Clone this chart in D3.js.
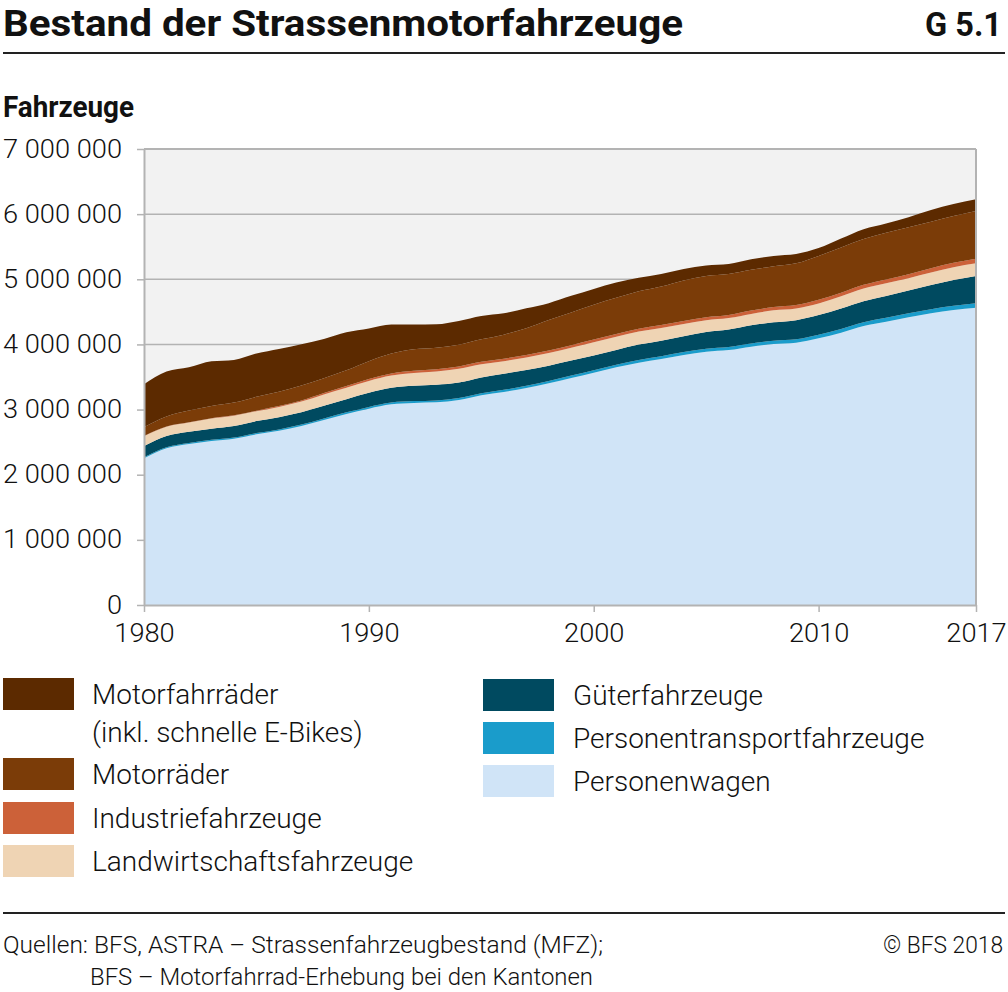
<!DOCTYPE html>
<html><head><meta charset="utf-8">
<script src="https://cdn.jsdelivr.net/npm/d3@7"></script>
<style>
body{margin:0;background:#fff}
svg{display:block}
text{font-family:Roboto,"Noto Sans",sans-serif;fill:#111}
</style>
</head><body>
<svg id="c" width="1008" height="992"></svg>
<script>
// ---- data (millions of vehicles) ----
const years = d3.range(1980, 2018);
const personenwagen = [2.251,2.405,2.471,2.518,2.553,2.620,2.676,2.748,2.840,2.932, 3.014,3.080,3.101,3.111,3.147,3.219,3.270,3.331,3.403,3.485, 3.566,3.648,3.720,3.776,3.838,3.889,3.914,3.966,4.007,4.027, 4.094,4.181,4.283,4.349,4.416,4.477,4.528,4.564];
const personentransport = [0.016,0.016,0.017,0.017,0.018,0.019,0.020,0.021,0.023,0.025, 0.027,0.028,0.029,0.030,0.031,0.032,0.033,0.034,0.035,0.037, 0.039,0.040,0.041,0.042,0.044,0.045,0.046,0.048,0.050,0.051, 0.053,0.055,0.057,0.059,0.061,0.063,0.065,0.067];
const gueter = [0.174,0.173,0.170,0.172,0.177,0.184,0.188,0.190,0.196,0.203, 0.216,0.226,0.235,0.240,0.238,0.243,0.248,0.242,0.235,0.230, 0.225,0.228,0.236,0.240,0.243,0.256,0.268,0.280,0.282,0.295, 0.305,0.316,0.322,0.335,0.350,0.372,0.395,0.419];
const landwirtschaft = [0.150,0.142,0.142,0.155,0.157,0.152,0.157,0.163,0.172,0.174, 0.183,0.188,0.198,0.204,0.210,0.202,0.192,0.193,0.195,0.196, 0.202,0.203,0.201,0.196,0.190,0.181,0.176,0.175,0.185,0.180, 0.178,0.186,0.195,0.195,0.190,0.192,0.198,0.196];
const industrie = [0.003,0.004,0.004,0.005,0.006,0.008,0.012,0.018,0.024,0.028, 0.031,0.033,0.034,0.035,0.036,0.037,0.038,0.039,0.040,0.041, 0.042,0.043,0.044,0.045,0.046,0.047,0.048,0.050,0.051,0.052, 0.054,0.056,0.058,0.060,0.062,0.065,0.067,0.070];
const motorraeder = [0.133,0.153,0.180,0.189,0.196,0.213,0.222,0.228,0.225,0.240, 0.272,0.305,0.330,0.330,0.333,0.345,0.369,0.409,0.468,0.502, 0.537,0.553,0.573,0.590,0.622,0.634,0.630,0.626,0.626,0.640, 0.675,0.693,0.702,0.715,0.720,0.716,0.718,0.732];
const motorfahrraeder = [0.660,0.690,0.665,0.685,0.655,0.665,0.655,0.635,0.604,0.584, 0.501,0.445,0.380,0.360,0.366,0.358,0.328,0.307,0.258,0.255, 0.241,0.235,0.210,0.194,0.174,0.160,0.154,0.162,0.158,0.143, 0.120,0.138,0.152,0.143,0.154,0.180,0.185,0.179];

const seriesKeys = ["pw","pt","gf","lw","ind","mr","mfr"];
const seriesLabels = {
  mfr:["Motorfahrräder","(inkl. schnelle E-Bikes)"], mr:["Motorräder"], ind:["Industriefahrzeuge"],
  lw:["Landwirtschaftsfahrzeuge"], gf:["Güterfahrzeuge"], pt:["Personentransportfahrzeuge"], pw:["Personenwagen"]
};
const colors = {pw:"#d0e4f7", pt:"#1a9ccb", gf:"#004a60", lw:"#efd4b4", ind:"#cc6139", mr:"#7b3c08", mfr:"#5c2a00"};
const yTicks = [0,1000000,2000000,3000000,4000000,5000000,6000000,7000000];
const xTicks = [1980,1990,2000,2010,2017];

const table = years.map((yr,i)=>({year:yr, pw:personenwagen[i]*1e6, pt:personentransport[i]*1e6, gf:gueter[i]*1e6,
  lw:landwirtschaft[i]*1e6, ind:industrie[i]*1e6, mr:motorraeder[i]*1e6, mfr:motorfahrraeder[i]*1e6}));

const svg = d3.select("#c");
const L=144, R=976, T=149, B=605;
const x = d3.scaleLinear().domain([1980,2017]).range([L,R]);
const y = d3.scaleLinear().domain([0,7000000]).range([B,T]);

function fit(sel, w){ sel.attr("textLength", w).attr("lengthAdjust","spacingAndGlyphs"); }

// title
svg.append("text").attr("x",3).attr("y",36).attr("font-size",37).attr("font-weight",700)
  .text("Bestand der Strassenmotorfahrzeuge").call(fit,680);
svg.append("text").attr("x",925).attr("y",36).attr("font-size",34).attr("font-weight",700)
  .text("G 5.1").call(fit,77);
svg.append("line").attr("x1",3).attr("x2",1005).attr("y1",53).attr("y2",53).attr("stroke","#222").attr("stroke-width",2);

svg.append("text").attr("x",3).attr("y",117).attr("font-size",29).attr("font-weight",700)
  .text("Fahrzeuge").call(fit,131);

// plot background
svg.append("rect").attr("x",L).attr("y",T).attr("width",R-L).attr("height",B-T).attr("fill","#f2f2f2");

// gridlines
svg.append("g").selectAll("line").data(yTicks.filter(d=>d>0)).join("line")
  .attr("x1",L).attr("x2",R).attr("y1",d=>y(d)).attr("y2",d=>y(d))
  .attr("stroke","#b3b3b3").attr("stroke-width",1.5);

// stacked areas
const stack = d3.stack().keys(seriesKeys);
const layers = stack(table);
const area = d3.area().x(d=>x(d.data.year)).y0(d=>y(d[0])).y1(d=>y(d[1])).curve(d3.curveMonotoneX);
svg.append("g").selectAll("path").data(layers).join("path")
  .attr("d",area).attr("fill",d=>colors[d.key]);

// frame
svg.append("line").attr("x1",R).attr("x2",R).attr("y1",T).attr("y2",B).attr("stroke","#b3b3b3").attr("stroke-width",2);
svg.append("line").attr("x1",L).attr("x2",R).attr("y1",T).attr("y2",T).attr("stroke","#b3b3b3").attr("stroke-width",2);

// axes
const fmt = d => d3.format(",")(d).replace(/,/g," ");
const yAxis = svg.append("g").attr("transform",`translate(${L},0)`)
  .call(d3.axisLeft(y).tickValues(yTicks).tickSize(7).tickSizeOuter(0).tickPadding(15).tickFormat(fmt));
const xAxis = svg.append("g").attr("transform",`translate(0,${B})`)
  .call(d3.axisBottom(x).tickValues(xTicks).tickSize(7).tickSizeOuter(0).tickPadding(12).tickFormat(d3.format("d")));
[yAxis,xAxis].forEach(a=>{
  a.select(".domain").attr("stroke","#b3b3b3").attr("stroke-width",2);
  a.selectAll(".tick line").attr("stroke","#b3b3b3").attr("stroke-width",1.5);
  a.selectAll(".tick text").attr("font-size",25).attr("font-weight",300).attr("fill","#111")
   .style("font-family","Roboto, 'Noto Sans', sans-serif");
});
const ref = yAxis.selectAll(".tick text").filter(d=>d===7000000).node();
const k = 119 / ref.getComputedTextLength();
svg.selectAll(".tick text").each(function(){ const w=this.getComputedTextLength(); d3.select(this).call(fit, w*k); });

// legend
const legLeft = ["mfr","mr","ind","lw"], legRight = ["gf","pt","pw"];
const leftY = {mfr:678, mr:758, ind:802, lw:845};
const rightY = {gf:679, pt:722, pw:765};
function legend(keys, pos, sx, tx){
  keys.forEach(key=>{
    const g = svg.append("g");
    g.append("rect").attr("x",sx).attr("y",pos[key]).attr("width",71).attr("height",32).attr("fill",colors[key]);
    seriesLabels[key].forEach((line,j)=>{
      g.append("text").attr("x",tx).attr("y",pos[key]+26+j*38).attr("font-size",28).attr("font-weight",300).text(line);
    });
  });
}
legend(legLeft, leftY, 3, 92);
legend(legRight, rightY, 483, 573);

// footer
svg.append("line").attr("x1",3).attr("x2",1005).attr("y1",913).attr("y2",913).attr("stroke","#222").attr("stroke-width",2);
svg.append("text").attr("x",3).attr("y",953).attr("font-size",23).attr("font-weight",300)
  .text("Quellen: BFS, ASTRA – Strassenfahrzeugbestand (MFZ);").call(fit,600);
svg.append("text").attr("x",90).attr("y",985).attr("font-size",23).attr("font-weight",300)
  .text("BFS – Motorfahrrad-Erhebung bei den Kantonen").call(fit,503);
svg.append("text").attr("x",883).attr("y",953).attr("font-size",23).attr("font-weight",300)
  .text("© BFS 2018").call(fit,120);
</script>
</body></html>
